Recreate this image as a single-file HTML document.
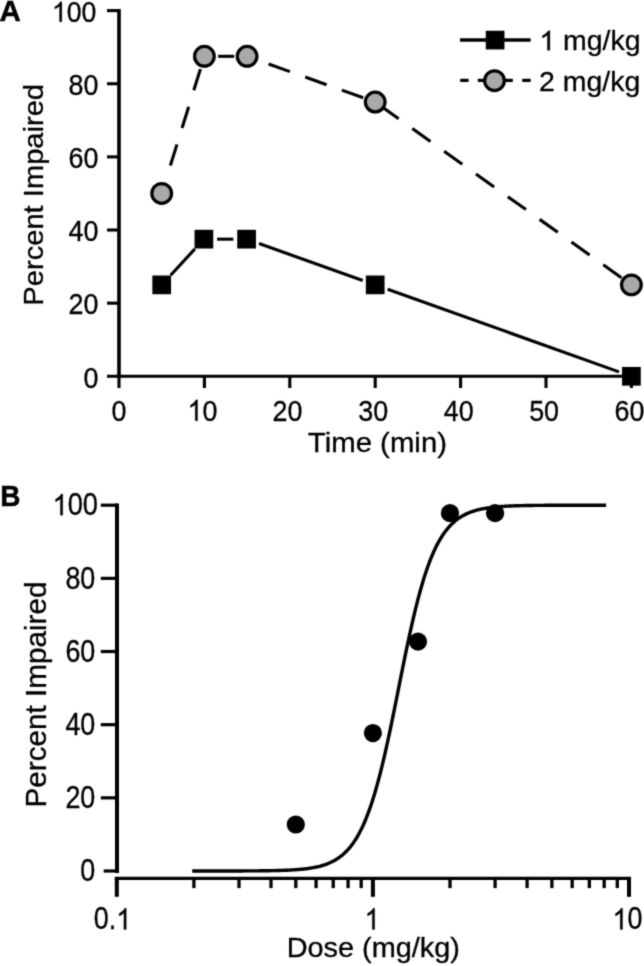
<!DOCTYPE html><html><head><meta charset="utf-8"><style>html,body{margin:0;padding:0;background:#fff}svg{display:block}text{font-family:"Liberation Sans",sans-serif;fill:#000}</style></head><body>
<svg width="644" height="966" viewBox="0 0 644 966">
<defs><filter id="bl" x="0" y="0" width="644" height="966" filterUnits="userSpaceOnUse" color-interpolation-filters="sRGB"><feConvolveMatrix order="3" kernelMatrix="0.03 0.1 0.03 0.1 0.48 0.1 0.03 0.1 0.03" divisor="1" edgeMode="duplicate" preserveAlpha="true"/></filter></defs>
<rect width="644" height="966" fill="#fff"/><g filter="url(#bl)"><rect width="644" height="966" fill="#fff"/>
<g stroke="#000" stroke-width="3.1" fill="none" stroke-linecap="butt">
<path d="M119.0 9.050000000000022 V376.3" stroke-width="3.6"/>
<path d="M107 376.3 H632.9499999999999"/>
<path d="M107 303.16 H119.0"/>
<path d="M107 230.02 H119.0"/>
<path d="M107 156.88 H119.0"/>
<path d="M107 83.74 H119.0"/>
<path d="M107 10.60 H119.0"/>
<path d="M119.00 376.3 V388"/>
<path d="M204.40 376.3 V388"/>
<path d="M289.80 376.3 V388"/>
<path d="M375.20 376.3 V388"/>
<path d="M460.60 376.3 V388"/>
<path d="M546.00 376.3 V388"/>
<path d="M631.40 376.3 V388"/>
</g>
<text transform="translate(98.40 387.50) scale(0.96 1.08)" font-size="28" text-anchor="end" stroke="#000" stroke-width="0.3">0</text>
<text transform="translate(98.40 314.36) scale(0.96 1.08)" font-size="28" text-anchor="end" stroke="#000" stroke-width="0.3">20</text>
<text transform="translate(98.40 241.22) scale(0.96 1.08)" font-size="28" text-anchor="end" stroke="#000" stroke-width="0.3">40</text>
<text transform="translate(98.40 168.08) scale(0.96 1.08)" font-size="28" text-anchor="end" stroke="#000" stroke-width="0.3">60</text>
<text transform="translate(98.40 94.94) scale(0.96 1.08)" font-size="28" text-anchor="end" stroke="#000" stroke-width="0.3">80</text>
<g transform="translate(96.40 21.80) scale(0.953 1.04)" stroke="#000" stroke-width="0.3">
<path transform="translate(-46.70 0) scale(0.01367 -0.01312)" d="M763 0H583V1147Q518 1085 412.5 1023T223 930V1104Q373 1174.5 485.5 1275T645 1470H763Z" fill="#000" stroke-width="21.9"/>
<text x="-31.14" y="0" font-size="28" xml:space="preserve">00</text>
</g>
<text transform="translate(118.90 420.70) scale(0.96 1.08)" font-size="28" text-anchor="middle" stroke="#000" stroke-width="0.3">0</text>
<g transform="translate(202.50 420.70) scale(0.96 1.08)" stroke="#000" stroke-width="0.3">
<path transform="translate(-15.57 0) scale(0.01367 -0.01312)" d="M763 0H583V1147Q518 1085 412.5 1023T223 930V1104Q373 1174.5 485.5 1275T645 1470H763Z" fill="#000" stroke-width="21.9"/>
<text x="0.00" y="0" font-size="28" xml:space="preserve">0</text>
</g>
<text transform="translate(287.40 420.70) scale(0.96 1.08)" font-size="28" text-anchor="middle" stroke="#000" stroke-width="0.3">20</text>
<text transform="translate(373.30 420.70) scale(0.96 1.08)" font-size="28" text-anchor="middle" stroke="#000" stroke-width="0.3">30</text>
<text transform="translate(458.70 420.70) scale(0.96 1.08)" font-size="28" text-anchor="middle" stroke="#000" stroke-width="0.3">40</text>
<text transform="translate(544.10 420.70) scale(0.96 1.08)" font-size="28" text-anchor="middle" stroke="#000" stroke-width="0.3">50</text>
<text transform="translate(629.50 420.70) scale(0.96 1.08)" font-size="28" text-anchor="middle" stroke="#000" stroke-width="0.3">60</text>
<text transform="translate(377.40 452.20) scale(1.016 1.01)" font-size="28" text-anchor="middle" textLength="137" lengthAdjust="spacingAndGlyphs" stroke="#000" stroke-width="0.3">Time (min)</text>
<text transform="translate(43.00 194.80) rotate(-90) scale(1.0 1.01)" font-size="28" text-anchor="middle" textLength="221.7" lengthAdjust="spacingAndGlyphs" stroke="#000" stroke-width="0.3">Percent Impaired</text>
<text transform="translate(-0.50 21.30) scale(1.0 1.0)" font-size="29.6" font-weight="bold" stroke="#000" stroke-width="0.4">A</text>
<g stroke="#000" stroke-width="3.1" fill="none">
<path d="M170.38 165.57 L176.98 144.37"/>
<path d="M182.09 127.95 L188.69 106.76"/>
<path d="M193.81 90.33 L200.41 69.14"/>
<path d="M218.10 56.31 L234.20 56.31"/>
<path d="M268.57 63.98 L289.95 71.60"/>
<path d="M305.21 77.05 L326.59 84.68"/>
<path d="M341.85 90.12 L363.23 97.75"/>
<path d="M380.49 105.80 L398.64 118.76"/>
<path d="M412.32 128.52 L430.47 141.47"/>
<path d="M444.14 151.23 L462.29 164.18"/>
<path d="M475.97 173.94 L494.12 186.90"/>
<path d="M507.79 196.66 L525.95 209.61"/>
<path d="M539.62 219.37 L557.77 232.33"/>
<path d="M571.45 242.09 L589.60 255.04"/>
<path d="M603.27 264.80 L621.42 277.75"/>
</g>
<circle cx="161.70" cy="193.45" r="9.85" fill="#a9a9a9" stroke="#000" stroke-width="3.2"/>
<circle cx="204.40" cy="56.31" r="9.85" fill="#a9a9a9" stroke="#000" stroke-width="3.2"/>
<circle cx="247.10" cy="56.31" r="9.85" fill="#a9a9a9" stroke="#000" stroke-width="3.2"/>
<circle cx="375.20" cy="102.03" r="9.85" fill="#a9a9a9" stroke="#000" stroke-width="3.2"/>
<circle cx="631.40" cy="284.88" r="9.85" fill="#a9a9a9" stroke="#000" stroke-width="3.2"/>
<g stroke="#000" stroke-width="3.1" fill="none">
<path d="M170.65 275.18 L194.95 248.86"/>
<path d="M217.10 239.16 L233.40 239.16"/>
<path d="M259.04 243.58 L362.76 280.45"/>
<path d="M387.63 289.31 L618.97 371.86"/>
</g>
<rect x="152.35" y="275.52" width="18.7" height="18.7" fill="#000"/>
<rect x="194.55" y="229.81" width="18.7" height="18.7" fill="#000"/>
<rect x="237.25" y="229.81" width="18.7" height="18.7" fill="#000"/>
<rect x="365.85" y="275.52" width="18.7" height="18.7" fill="#000"/>
<rect x="622.05" y="366.95" width="18.7" height="18.7" fill="#000"/>
<g stroke="#000" stroke-width="3.1" fill="none">
<path d="M460 40 H530.7" stroke-width="3.5"/>
<path d="M460.2 80.4 H468.6 M477.8 80.4 H486 M503 80.4 H512.8 M522.3 80.4 H530.7"/>
</g>
<rect x="485.75" y="30.75" width="18.7" height="18.7" fill="#000"/>
<circle cx="494.5" cy="80.7" r="9.85" fill="#a9a9a9" stroke="#000" stroke-width="3.2"/>
<g transform="translate(539.30 50.20) scale(1.017 1.01)" stroke="#000" stroke-width="0.3">
<path transform="translate(0.00 0) scale(0.01367 -0.01312)" d="M763 0H583V1147Q518 1085 412.5 1023T223 930V1104Q373 1174.5 485.5 1275T645 1470H763Z" fill="#000" stroke-width="21.9"/>
<text x="15.57" y="0" font-size="28" xml:space="preserve"> mg/kg</text>
</g>
<text transform="translate(539.00 91.20) scale(1.0 1.01)" font-size="28" textLength="101.3" lengthAdjust="spacingAndGlyphs" stroke="#000" stroke-width="0.3">2 mg/kg</text>
<g stroke="#000" stroke-width="3.1" fill="none">
<path d="M117.0 503.60 V873.0" stroke-width="4.0"/>
<path d="M103.7 871.00 H117.0" stroke-width="3.2"/>
<path d="M100.8 797.84 H117.0" stroke-width="3.2"/>
<path d="M100.8 724.68 H117.0" stroke-width="3.2"/>
<path d="M100.8 651.52 H117.0" stroke-width="3.2"/>
<path d="M100.8 578.36 H117.0" stroke-width="3.2"/>
<path d="M100.8 505.20 H117.0" stroke-width="3.2"/>
<path d="M114.80 878.3 H631.00" stroke-width="3.2"/>
<path d="M116.80 878.3 V896.8" stroke-width="4.0"/>
<path d="M372.90 878.3 V896.8" stroke-width="4.0"/>
<path d="M629.00 878.3 V896.8" stroke-width="4.0"/>
<path d="M193.89 878.3 V888.1" stroke-width="3.3"/>
<path d="M238.99 878.3 V888.1" stroke-width="3.3"/>
<path d="M270.99 878.3 V888.1" stroke-width="3.3"/>
<path d="M295.81 878.3 V888.1" stroke-width="3.3"/>
<path d="M316.08 878.3 V888.1" stroke-width="3.3"/>
<path d="M333.23 878.3 V888.1" stroke-width="3.3"/>
<path d="M348.08 878.3 V888.1" stroke-width="3.3"/>
<path d="M361.18 878.3 V888.1" stroke-width="3.3"/>
<path d="M449.99 878.3 V888.1" stroke-width="3.3"/>
<path d="M495.09 878.3 V888.1" stroke-width="3.3"/>
<path d="M527.09 878.3 V888.1" stroke-width="3.3"/>
<path d="M551.91 878.3 V888.1" stroke-width="3.3"/>
<path d="M572.18 878.3 V888.1" stroke-width="3.3"/>
<path d="M589.33 878.3 V888.1" stroke-width="3.3"/>
<path d="M604.18 878.3 V888.1" stroke-width="3.3"/>
<path d="M617.28 878.3 V888.1" stroke-width="3.3"/>
<path d="M192.23 871.00 L193.26 871.00 L194.30 871.00 L195.33 870.99 L196.37 870.99 L197.40 870.99 L198.44 870.99 L199.47 870.99 L200.51 870.99 L201.54 870.99 L202.58 870.99 L203.61 870.99 L204.65 870.99 L205.68 870.99 L206.71 870.99 L207.75 870.99 L208.78 870.99 L209.82 870.99 L210.85 870.99 L211.89 870.99 L212.92 870.99 L213.96 870.99 L214.99 870.98 L216.03 870.98 L217.06 870.98 L218.10 870.98 L219.13 870.98 L220.17 870.98 L221.20 870.98 L222.23 870.98 L223.27 870.98 L224.30 870.97 L225.34 870.97 L226.37 870.97 L227.41 870.97 L228.44 870.97 L229.48 870.97 L230.51 870.96 L231.55 870.96 L232.58 870.96 L233.62 870.96 L234.65 870.95 L235.69 870.95 L236.72 870.95 L237.76 870.95 L238.79 870.94 L239.82 870.94 L240.86 870.94 L241.89 870.93 L242.93 870.93 L243.96 870.92 L245.00 870.92 L246.03 870.92 L247.07 870.91 L248.10 870.91 L249.14 870.90 L250.17 870.89 L251.21 870.89 L252.24 870.88 L253.28 870.87 L254.31 870.87 L255.34 870.86 L256.38 870.85 L257.41 870.84 L258.45 870.83 L259.48 870.82 L260.52 870.81 L261.55 870.80 L262.59 870.79 L263.62 870.78 L264.66 870.76 L265.69 870.75 L266.73 870.74 L267.76 870.72 L268.80 870.70 L269.83 870.69 L270.86 870.67 L271.90 870.65 L272.93 870.63 L273.97 870.61 L275.00 870.59 L276.04 870.56 L277.07 870.54 L278.11 870.51 L279.14 870.48 L280.18 870.45 L281.21 870.42 L282.25 870.38 L283.28 870.35 L284.32 870.31 L285.35 870.27 L286.39 870.23 L287.42 870.18 L288.45 870.13 L289.49 870.08 L290.52 870.03 L291.56 869.97 L292.59 869.91 L293.63 869.85 L294.66 869.78 L295.70 869.71 L296.73 869.64 L297.77 869.56 L298.80 869.47 L299.84 869.39 L300.87 869.29 L301.91 869.19 L302.94 869.09 L303.97 868.98 L305.01 868.86 L306.04 868.73 L307.08 868.60 L308.11 868.46 L309.15 868.32 L310.18 868.16 L311.22 868.00 L312.25 867.82 L313.29 867.64 L314.32 867.45 L315.36 867.24 L316.39 867.02 L317.43 866.79 L318.46 866.55 L319.50 866.30 L320.53 866.02 L321.56 865.74 L322.60 865.44 L323.63 865.12 L324.67 864.78 L325.70 864.42 L326.74 864.04 L327.77 863.65 L328.81 863.23 L329.84 862.78 L330.88 862.31 L331.91 861.82 L332.95 861.30 L333.98 860.75 L335.02 860.17 L336.05 859.55 L337.08 858.91 L338.12 858.23 L339.15 857.51 L340.19 856.75 L341.22 855.95 L342.26 855.11 L343.29 854.23 L344.33 853.30 L345.36 852.31 L346.40 851.28 L347.43 850.20 L348.47 849.05 L349.50 847.85 L350.54 846.59 L351.57 845.27 L352.60 843.88 L353.64 842.42 L354.67 840.89 L355.71 839.28 L356.74 837.60 L357.78 835.83 L358.81 833.99 L359.85 832.06 L360.88 830.04 L361.92 827.93 L362.95 825.73 L363.99 823.43 L365.02 821.03 L366.06 818.53 L367.09 815.93 L368.13 813.22 L369.16 810.40 L370.19 807.48 L371.23 804.45 L372.26 801.30 L373.30 798.04 L374.33 794.67 L375.37 791.19 L376.40 787.59 L377.44 783.88 L378.47 780.06 L379.51 776.12 L380.54 772.08 L381.58 767.93 L382.61 763.68 L383.65 759.33 L384.68 754.88 L385.71 750.33 L386.75 745.70 L387.78 740.99 L388.82 736.19 L389.85 731.33 L390.89 726.40 L391.92 721.40 L392.96 716.36 L393.99 711.28 L395.03 706.15 L396.06 701.00 L397.10 695.83 L398.13 690.64 L399.17 685.45 L400.20 680.27 L401.23 675.10 L402.27 669.95 L403.30 664.82 L404.34 659.74 L405.37 654.70 L406.41 649.71 L407.44 644.78 L408.48 639.91 L409.51 635.12 L410.55 630.41 L411.58 625.78 L412.62 621.23 L413.65 616.79 L414.69 612.43 L415.72 608.18 L416.76 604.04 L417.79 600.00 L418.82 596.07 L419.86 592.25 L420.89 588.54 L421.93 584.94 L422.96 581.46 L424.00 578.09 L425.03 574.84 L426.07 571.69 L427.10 568.66 L428.14 565.74 L429.17 562.93 L430.21 560.22 L431.24 557.62 L432.28 555.12 L433.31 552.73 L434.34 550.43 L435.38 548.23 L436.41 546.12 L437.45 544.10 L438.48 542.17 L439.52 540.33 L440.55 538.57 L441.59 536.89 L442.62 535.28 L443.66 533.75 L444.69 532.29 L445.73 530.90 L446.76 529.58 L447.80 528.32 L448.83 527.12 L449.87 525.98 L450.90 524.90 L451.93 523.87 L452.97 522.89 L454.00 521.95 L455.04 521.07 L456.07 520.23 L457.11 519.43 L458.14 518.68 L459.18 517.96 L460.21 517.28 L461.25 516.63 L462.28 516.02 L463.32 515.44 L464.35 514.89 L465.39 514.37 L466.42 513.88 L467.45 513.41 L468.49 512.97 L469.52 512.55 L470.56 512.15 L471.59 511.77 L472.63 511.42 L473.66 511.08 L474.70 510.76 L475.73 510.46 L476.77 510.17 L477.80 509.90 L478.84 509.64 L479.87 509.40 L480.91 509.17 L481.94 508.95 L482.97 508.75 L484.01 508.56 L485.04 508.37 L486.08 508.20 L487.11 508.03 L488.15 507.88 L489.18 507.73 L490.22 507.59 L491.25 507.46 L492.29 507.34 L493.32 507.22 L494.36 507.11 L495.39 507.01 L496.43 506.91 L497.46 506.81 L498.50 506.72 L499.53 506.64 L500.56 506.56 L501.60 506.49 L502.63 506.42 L503.67 506.35 L504.70 506.29 L505.74 506.23 L506.77 506.17 L507.81 506.12 L508.84 506.07 L509.88 506.02 L510.91 505.97 L511.95 505.93 L512.98 505.89 L514.02 505.85 L515.05 505.82 L516.08 505.78 L517.12 505.75 L518.15 505.72 L519.19 505.69 L520.22 505.66 L521.26 505.64 L522.29 505.61 L523.33 505.59 L524.36 505.57 L525.40 505.55 L526.43 505.53 L527.47 505.51 L528.50 505.49 L529.54 505.48 L530.57 505.46 L531.60 505.45 L532.64 505.44 L533.67 505.42 L534.71 505.41 L535.74 505.40 L536.78 505.39 L537.81 505.38 L538.85 505.37 L539.88 505.36 L540.92 505.35 L541.95 505.34 L542.99 505.33 L544.02 505.33 L545.06 505.32 L546.09 505.31 L547.13 505.31 L548.16 505.30 L549.19 505.29 L550.23 505.29 L551.26 505.28 L552.30 505.28 L553.33 505.28 L554.37 505.27 L555.40 505.27 L556.44 505.26 L557.47 505.26 L558.51 505.26 L559.54 505.25 L560.58 505.25 L561.61 505.25 L562.65 505.25 L563.68 505.24 L564.71 505.24 L565.75 505.24 L566.78 505.24 L567.82 505.23 L568.85 505.23 L569.89 505.23 L570.92 505.23 L571.96 505.23 L572.99 505.23 L574.03 505.22 L575.06 505.22 L576.10 505.22 L577.13 505.22 L578.17 505.22 L579.20 505.22 L580.24 505.22 L581.27 505.22 L582.30 505.22 L583.34 505.21 L584.37 505.21 L585.41 505.21 L586.44 505.21 L587.48 505.21 L588.51 505.21 L589.55 505.21 L590.58 505.21 L591.62 505.21 L592.65 505.21 L593.69 505.21 L594.72 505.21 L595.76 505.21 L596.79 505.21 L597.82 505.21 L598.86 505.21 L599.89 505.21 L600.93 505.21 L601.96 505.21 L603.00 505.20 L604.03 505.20 L605.07 505.20 L606.10 505.20" stroke-width="3.4" stroke-linejoin="round"/>
</g>
<circle cx="295.81" cy="824.48" r="9.1" fill="#000"/>
<circle cx="372.90" cy="733.03" r="9.1" fill="#000"/>
<circle cx="418.00" cy="641.58" r="9.1" fill="#000"/>
<circle cx="449.99" cy="513.14" r="9.1" fill="#000"/>
<circle cx="495.09" cy="513.14" r="9.1" fill="#000"/>
<text transform="translate(95.30 881.30) scale(0.96 1.1)" font-size="28" text-anchor="end" stroke="#000" stroke-width="0.3">0</text>
<text transform="translate(95.30 808.14) scale(0.96 1.1)" font-size="28" text-anchor="end" stroke="#000" stroke-width="0.3">20</text>
<text transform="translate(95.30 734.98) scale(0.96 1.1)" font-size="28" text-anchor="end" stroke="#000" stroke-width="0.3">40</text>
<text transform="translate(95.30 661.82) scale(0.96 1.1)" font-size="28" text-anchor="end" stroke="#000" stroke-width="0.3">60</text>
<text transform="translate(95.30 588.66) scale(0.96 1.1)" font-size="28" text-anchor="end" stroke="#000" stroke-width="0.3">80</text>
<g transform="translate(98.00 515.20) scale(0.972 1.1)" stroke="#000" stroke-width="0.3">
<path transform="translate(-46.70 0) scale(0.01367 -0.01312)" d="M763 0H583V1147Q518 1085 412.5 1023T223 930V1104Q373 1174.5 485.5 1275T645 1470H763Z" fill="#000" stroke-width="21.9"/>
<text x="-31.14" y="0" font-size="28" xml:space="preserve">00</text>
</g>
<g transform="translate(112.50 929.40) scale(0.96 1.1)" stroke="#000" stroke-width="0.3">
<text x="-19.46" y="0" font-size="28" xml:space="preserve">0.</text>
<path transform="translate(3.89 0) scale(0.01367 -0.01312)" d="M763 0H583V1147Q518 1085 412.5 1023T223 930V1104Q373 1174.5 485.5 1275T645 1470H763Z" fill="#000" stroke-width="21.9"/>
</g>
<g transform="translate(372.10 929.40) scale(0.96 1.1)" stroke="#000" stroke-width="0.3">
<path transform="translate(-7.78 0) scale(0.01367 -0.01312)" d="M763 0H583V1147Q518 1085 412.5 1023T223 930V1104Q373 1174.5 485.5 1275T645 1470H763Z" fill="#000" stroke-width="21.9"/>
</g>
<g transform="translate(627.50 929.40) scale(0.96 1.1)" stroke="#000" stroke-width="0.3">
<path transform="translate(-15.57 0) scale(0.01367 -0.01312)" d="M763 0H583V1147Q518 1085 412.5 1023T223 930V1104Q373 1174.5 485.5 1275T645 1470H763Z" fill="#000" stroke-width="21.9"/>
<text x="0.00" y="0" font-size="28" xml:space="preserve">0</text>
</g>
<text transform="translate(373.30 957.20) scale(1.0 1.01)" font-size="28" text-anchor="middle" textLength="173.3" lengthAdjust="spacingAndGlyphs" stroke="#000" stroke-width="0.3">Dose (mg/kg)</text>
<text transform="translate(46.40 694.50) rotate(-90) scale(1.0 0.99)" font-size="29" text-anchor="middle" textLength="225.9" lengthAdjust="spacingAndGlyphs" stroke="#000" stroke-width="0.3">Percent Impaired</text>
<text transform="translate(0.20 505.60) scale(0.95 1.0)" font-size="29.5" font-weight="bold" stroke="#000" stroke-width="0.4">B</text>
</g></svg></body></html>
